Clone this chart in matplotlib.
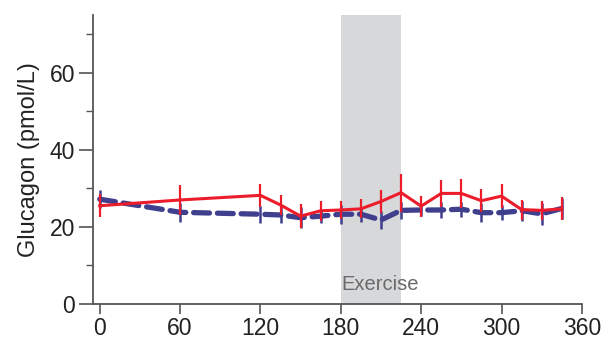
import numpy as np
from matplotlib import pyplot as plt
from matplotlib.ticker import MultipleLocator

plt.rcParams['font.family'] = ['Liberation Sans', 'DejaVu Sans']

# sampling times (min)
t = [0, 60, 120, 135, 150, 165, 180, 195, 210, 225, 240, 255, 270, 285, 300, 315, 330, 345]

# glucagon, solid red series
red_mean = [25.5, 27.0, 28.2, 25.7, 22.8, 24.2, 24.4, 24.7, 26.6, 28.9, 25.4, 28.7, 28.7, 26.8, 28.0, 24.5, 24.3, 24.7]
red_err = [3.0, 3.8, 3.0, 2.6, 3.1, 2.6, 2.3, 2.5, 3.0, 4.9, 2.7, 3.5, 3.7, 3.0, 3.1, 2.6, 2.5, 3.0]

# glucagon, dashed blue series
blue_mean = [27.2, 23.8, 23.3, 23.1, 22.4, 22.8, 23.3, 23.3, 21.8, 24.3, 24.4, 24.4, 24.6, 23.7, 23.7, 24.2, 23.4, 24.8]
blue_err = [2.4, 2.4, 2.2, 2.0, 2.8, 1.7, 2.5, 2.0, 2.4, 2.2, 1.6, 2.0, 2.0, 2.4, 2.0, 2.6, 2.8, 2.8]

exercise = (180, 225)

fig = plt.figure(figsize=(6.08, 3.41), dpi=100)
ax = fig.add_axes([0.153, 0.1085, 0.804, 0.8475])

ax.axvspan(exercise[0], exercise[1], color='#d7d8da', lw=0, zorder=0)
ax.text(exercise[0] + 0.8, 5.0, 'Exercise', color='#6a6a6a', fontsize=14.5,
        ha='left', va='center')

ax.errorbar(t, blue_mean, yerr=blue_err, color='#3f3f8e', lw=3.8, ls=(0, (3.0, 1.5)),
            dash_capstyle='round', elinewidth=1.8, capsize=0, zorder=2)
ax.errorbar(t, red_mean, yerr=red_err, color='#ec1c2a', lw=2.2,
            elinewidth=1.6, capsize=0, zorder=3)

ax.set_xlim(-5, 360)
ax.set_ylim(0, 75)
ax.set_xticks(np.arange(0, 361, 60))
ax.set_yticks([0, 20, 40, 60])
ax.yaxis.set_minor_locator(MultipleLocator(10))

for s in ['top', 'right']:
    ax.spines[s].set_visible(False)
for s in ['left', 'bottom']:
    ax.spines[s].set_color('#555555')
    ax.spines[s].set_linewidth(1.3)

ax.tick_params(axis='both', which='major', labelsize=16.5, colors='#555555',
               labelcolor='#222222', width=1.2)
ax.tick_params(axis='y', which='major', length=10, pad=3)
ax.tick_params(axis='y', which='minor', length=5, width=1.0, colors='#555555')
ax.tick_params(axis='x', which='major', length=7, pad=2)

ax.set_ylabel('Glucagon (pmol/L)', fontsize=17, color='#222222', labelpad=7)

fig.savefig('out.png', dpi=100)
